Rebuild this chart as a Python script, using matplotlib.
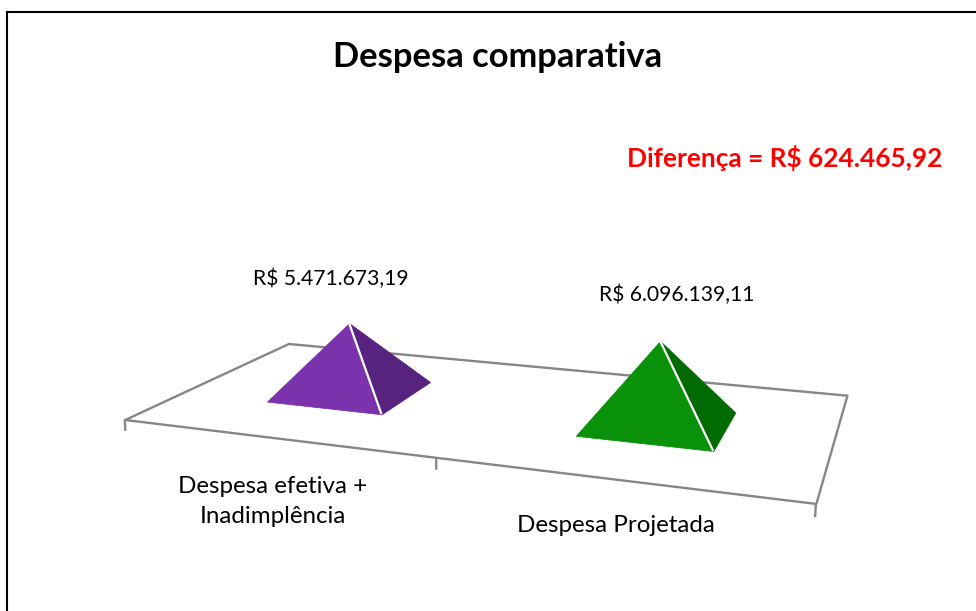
import numpy as np
import matplotlib
matplotlib.use('Agg')
import matplotlib.pyplot as plt
from matplotlib.lines import Line2D
from mpl_toolkits.mplot3d.art3d import Poly3DCollection, Line3DCollection

# ---- data ----
categories = ['Despesa efetiva +\nInadimplência', 'Despesa Projetada']
values = [5471673.19, 6096139.11]
title = 'Despesa comparativa'


def brl(v):
    s = f'{v:,.2f}'.replace(',', 'X').replace('.', ',').replace('X', '.')
    return 'R$ ' + s


value_labels = [brl(v) for v in values]
diff_label = 'Diferença = ' + brl(values[1] - values[0])

# ---- layout / style ----
W, H = 976, 611
FONT = ['Lato', 'DejaVu Sans']
front_cols = ['#7A33AD', '#0A910A']
side_cols = ['#58237E', '#006B00']
floor_col = '#868686'
ZMAX = 19.08e6
half_w, half_d = 0.196, 0.191

fig = plt.figure(figsize=(W / 100, H / 100), dpi=100)
fig.patch.set_facecolor('white')

ax = fig.add_axes([0, 0, 1, 1], projection='3d')
ax.set_axis_off()
ax.computed_zorder = False
ax.view_init(elev=11.205, azim=-70.296, roll=0)
ax.set_proj_type('persp', focal_length=0.3006)
ax.set_box_aspect((2.0, 0.98605, 0.78366))
n = len(categories)
ax.set_xlim(0, n)
ax.set_ylim(0, 1)
ax.set_zlim(0, ZMAX)
s = 762.49
cx, cy = 487.35, 292.08
ax.set_position([(cx - s / 2) / W, 1 - (cy + s / 2) / H, s / W, s / H])

# floor outline
floor = [[(0, 0, 0), (n, 0, 0), (n, 1, 0), (0, 1, 0)]]
ax.add_collection3d(Poly3DCollection(floor, facecolor='white', edgecolor=floor_col,
                                     linewidth=1.7, zorder=1))
# category ticks (hang down from the front edge)
tick_len = 0.045 * ZMAX
ticks = [[(i, 0, 0), (i, 0, -tick_len)] for i in range(n + 1)]
ax.add_collection3d(Line3DCollection(ticks, colors=floor_col, linewidths=1.7, zorder=1))

# pyramids
for i, v in enumerate(values):
    xc, yc = i + 0.5, 0.5
    FL = (xc - half_w, yc - half_d, 0)
    FR = (xc + half_w, yc - half_d, 0)
    BR = (xc + half_w, yc + half_d, 0)
    AP = (xc, yc, v)
    ax.add_collection3d(Poly3DCollection([[FL, FR, AP]], facecolor=front_cols[i],
                                         edgecolor=front_cols[i], linewidth=0.6, zorder=3))
    ax.add_collection3d(Poly3DCollection([[FR, BR, AP]], facecolor=side_cols[i],
                                         edgecolor=side_cols[i], linewidth=0.6, zorder=3))
    ax.add_collection3d(Line3DCollection([[FR, AP]], colors='white', linewidths=1.6, zorder=4))


def px(x, y):
    return x / W, 1 - y / H


# texts
fig.text(*px(497.5, 67), title, ha='center', va='baseline', fontsize=24.8,
         fontweight='bold', family=FONT, color='black')
fig.text(*px(785, 167), diff_label, ha='center', va='baseline', fontsize=18.9,
         fontweight='bold', family=FONT, color='#FF0000')
label_pos = [(331, 285), (677, 301)]
for (lx, ly), t in zip(label_pos, value_labels):
    fig.text(*px(lx, ly), t, ha='center', va='baseline', fontsize=15.2,
             family=FONT, color='black')
# anchor = baseline of the last line of each label
cat_pos = [(273, 523), (616, 532)]
for (lx, ly), t in zip(cat_pos, categories):
    fig.text(*px(lx, ly), t, ha='center', va='baseline', fontsize=17.4,
             family=FONT, color='black', linespacing=1.55, multialignment='center')

# chart border (top and left visible)
fig.add_artist(Line2D([7 / W, 1.0], [1 - 12 / H, 1 - 12 / H], transform=fig.transFigure,
                      color='black', linewidth=1.5))
fig.add_artist(Line2D([7 / W, 7 / W], [0.0, 1 - 12 / H], transform=fig.transFigure,
                      color='black', linewidth=1.5))

fig.savefig('out.png', dpi=100)
